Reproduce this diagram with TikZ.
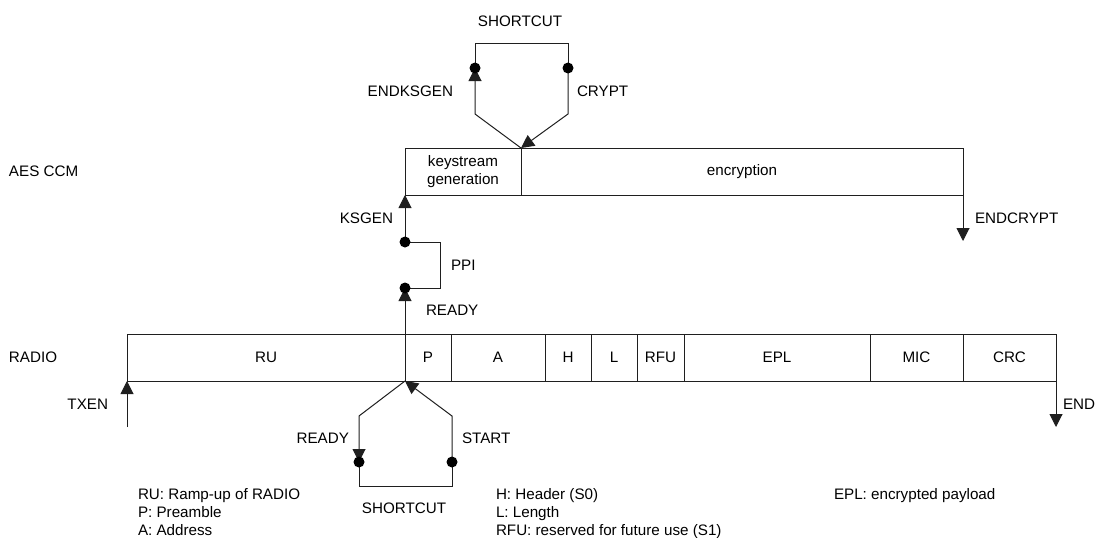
\documentclass[tikz,border=0pt]{standalone}
\usepackage{fontspec}
\setmainfont{Liberation Sans}
\usetikzlibrary{arrows.meta}
\definecolor{linec}{gray}{0.12}
\begin{document}
\begin{tikzpicture}[x=1pt,y=-1pt,
  every node/.style={font=\fontsize{15.2}{18}\selectfont, inner sep=0pt, outer sep=0pt},
  cell/.style={draw=linec, line width=1pt, minimum height=47pt, align=center},
  wire/.style={draw=linec, line width=1pt},
  arr/.style={wire, -{Triangle[width=13pt,length=13pt]}},
  dotc/.style={fill=black, circle, minimum size=11pt},
  lbl/.style={anchor=west},
  rlbl/.style={anchor=east},
  leg/.style={anchor=base west}]
\useasboundingbox (0,0) rectangle (1095,538);

% AES CCM row
\node[cell, minimum width=116pt] (ks) at (463,171.5) {keystream\\generation};
\node[cell, minimum width=442pt] (enc) at (742,171.5) {encryption};

% RADIO row
\node[cell, minimum width=278pt] (ru)  at (266,357.5)   {RU};
\node[cell, minimum width=46pt]  (p)   at (428,357.5)   {P};
\node[cell, minimum width=94pt]  (a)   at (498,357.5)   {A};
\node[cell, minimum width=46pt]  (h)   at (568,357.5)   {H};
\node[cell, minimum width=46pt]  (l)   at (614,357.5)   {L};
\node[cell, minimum width=47pt]  (rfu) at (660.5,357.5) {RFU};
\node[cell, minimum width=186pt] (epl) at (777,357.5)   {EPL};
\node[cell, minimum width=93pt]  (mic) at (916.5,357.5) {MIC};
\node[cell, minimum width=93pt]  (crc) at (1009.5,357.5){CRC};

% coordinates
\coordinate (tl1) at (475,114);
\coordinate (tld) at (475,68);
\coordinate (trd) at (568,68);
\coordinate (tr1) at (568,114);
\coordinate (kd) at (405,242);
\coordinate (rd) at (405,288);
\coordinate (ecend) at (963,241);
\coordinate (txs) at (127,427);
\coordinate (endp) at (1056,427);
\coordinate (bl1) at (359,416);
\coordinate (bld) at (359,462);
\coordinate (brd) at (452,462);
\coordinate (br1) at (452,416);

% top shortcut
\draw[arr] (ks.north east) -- (tl1) -- (tld);
\draw[arr] (trd) -- (tr1) -- (ks.north east);
\draw[wire] (tld) -- ++(0,-25) -| (trd);
\node[dotc] (dtl) at (tld) {};
\node[dotc] (dtr) at (trd) {};

% KSGEN / PPI / READY
\draw[arr] (kd) -- (ks.south west);
\draw[wire] (kd) -- ++(35,0) |- (rd);
\draw[arr] (p.north west) -- (rd);
\node[dotc] (dkd) at (kd) {};
\node[dotc] (drd) at (rd) {};

% ENDCRYPT, TXEN, END
\draw[arr] (enc.south east) -- (ecend);
\draw[arr] (txs) -- (ru.south west);
\draw[arr] (crc.south east) -- (endp);

% bottom shortcut
\draw[arr] (p.south west) -- (bl1) -- (bld);
\draw[arr] (brd) -- (br1) -- (p.south west);
\draw[wire] (bld) -- ++(0,24) -| (brd);
\node[dotc] (dbl) at (bld) {};
\node[dotc] (dbr) at (brd) {};

% labels
\node[lbl] (laes) at (9,171.7) {AES CCM};
\node[lbl] (lradio) at (9,357.7) {RADIO};
\node (lsc1) at (520,21) {SHORTCUT};
\node[rlbl] (lendks) at (453,91) {ENDKSGEN};
\node[lbl] (lcrypt) at (577,91) {CRYPT};
\node[rlbl] (lksgen) at (393,218) {KSGEN};
\node[lbl] (lppi) at (451,265) {PPI};
\node[lbl] (lready1) at (426,310) {READY};
\node[rlbl] (ltxen) at (108,404) {TXEN};
\node[rlbl] (lready2) at (349,438) {READY};
\node[lbl] (lstart) at (462,438) {START};
\node (lsc2) at (404,508) {SHORTCUT};
\node[lbl] (lendcr) at (975,218) {ENDCRYPT};
\node[lbl] (lend) at (1063,404) {END};

% legend
\node[leg] (g1) at (138,499) {RU: Ramp-up of RADIO};
\node[leg] (g2) at (138,517) {P: Preamble};
\node[leg] (g3) at (138,535) {A: Address};
\node[leg] (g4) at (496,499) {H: Header (S0)};
\node[leg] (g5) at (496,517) {L: Length};
\node[leg] (g6) at (496,535) {RFU: reserved for future use (S1)};
\node[leg] (g7) at (834,499) {EPL: encrypted payload};
\end{tikzpicture}
\end{document}
